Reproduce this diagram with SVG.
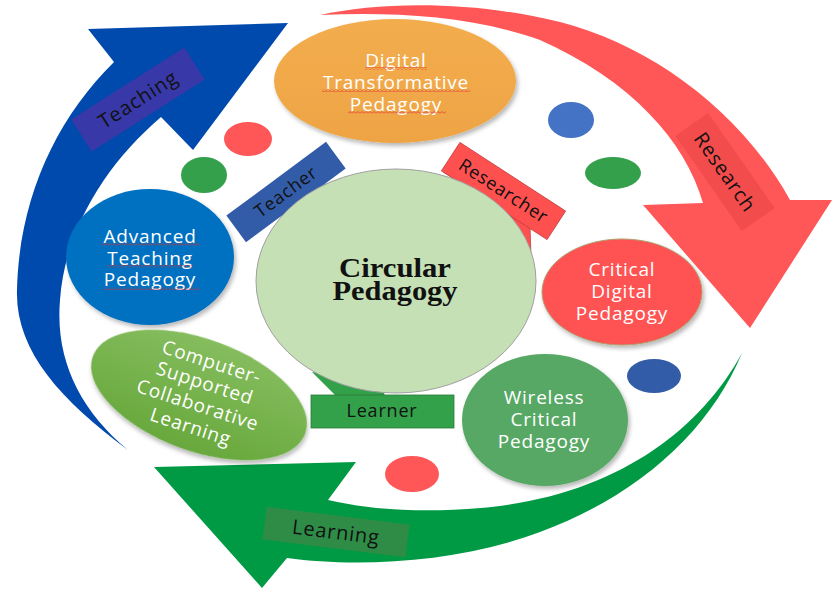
<svg xmlns="http://www.w3.org/2000/svg" width="832" height="589" viewBox="0 0 832 589">
<defs>
<style>
.nt{font-family:"Open Sans","Noto Sans","DejaVu Sans",sans-serif;font-size:19px;fill:#ffffff;text-anchor:middle;letter-spacing:0.8px}
.lt{font-family:"Open Sans","Noto Sans","DejaVu Sans",sans-serif;fill:#111111;text-anchor:middle;letter-spacing:0.8px}
.ct{font-family:"Liberation Serif","Times New Roman",serif;font-weight:bold;font-size:27px;fill:#111111;text-anchor:middle}
.sq{fill:url(#sq)}
</style>
<pattern id="sq" width="4" height="3" patternUnits="userSpaceOnUse"><path d="M0,2.5 L2,0.5 L4,2.5" stroke="#e03030" stroke-width="0.8" fill="none"/></pattern>
<filter id="sh" x="-10%" y="-10%" width="125%" height="130%"><feDropShadow dx="2" dy="3" stdDeviation="2" flood-color="#000" flood-opacity="0.28"/></filter>
<linearGradient id="gOr" x1="0" y1="0" x2="0" y2="1"><stop offset="0" stop-color="#f3ad4e"/><stop offset="1" stop-color="#eea444"/></linearGradient>
<linearGradient id="gCs" x1="0" y1="0" x2="0" y2="1"><stop offset="0" stop-color="#85bd5e"/><stop offset="1" stop-color="#68a83c"/></linearGradient>
</defs>
<rect width="832" height="589" fill="#ffffff"/>

<g id="connectors">
  <!-- Teaching arrow (blue) -->
  <path id="arrow-teaching" d="M128,450 C60,400 15,350 17,290 C19,200 55,120 114,62 L88,29 L288,23 L193,150 L161,117 C105,165 65,230 60,300 C55,360 80,410 128,450 Z" fill="#004aad"/>
  <!-- Research arrow (red) -->
  <path id="arrow-research" d="M320,15 C380,2 470,0 560,22 C650,45 740,110 790,200 L832,200 L750,328 L643,205 L703,203 C685,140 630,80 540,40 C470,15 390,12 320,15 Z" fill="#ff5757"/>
  <!-- Learning arrow (green) -->
  <path id="arrow-learning" d="M742,353 C700,430 620,490 500,506 C440,513 380,512 328,500 L356,462 L154,467 L262,588 L287,558 C360,568 460,562 540,532 C640,495 710,430 742,353 Z" fill="#009a44"/>
  <!-- arrow labels -->
  <g transform="translate(138,99.5) rotate(-32.5)">
    <rect x="-67" y="-19" width="134" height="38" fill="#3838a8"/>
    <text class="lt" x="0" y="7" font-size="20">Teaching</text>
  </g>
  <g transform="translate(725,172) rotate(55)">
    <rect x="-58" y="-20" width="116" height="40" fill="#f24c4c"/>
    <text class="lt" x="0" y="7" font-size="20">Research</text>
  </g>
  <g transform="translate(336,532) rotate(7)">
    <rect x="-72" y="-16.5" width="144" height="33" fill="#2e8c47"/>
    <text class="lt" x="0" y="7" font-size="20">Learning</text>
  </g>
</g>

<g id="dots">
  <ellipse cx="248" cy="139" rx="24" ry="17" fill="#ff5757"/>
  <ellipse cx="204" cy="175" rx="23" ry="18" fill="#34a04c"/>
  <ellipse cx="571" cy="120" rx="23" ry="18" fill="#4472c4"/>
  <ellipse cx="613" cy="173" rx="28" ry="16" fill="#34a04c"/>
  <ellipse cx="654" cy="376" rx="27" ry="17" fill="#335ca8"/>
  <ellipse cx="412" cy="474" rx="27" ry="18" fill="#ff5757"/>
</g>

<g id="node-digital-transformative">
  <ellipse cx="395" cy="81" rx="121" ry="62" fill="url(#gOr)" filter="url(#sh)"/>
  <text class="nt" x="396" y="67">Digital</text>
  <text class="nt" x="396" y="89">Transformative</text>
  <text class="nt" x="396" y="111">Pedagogy</text>
  <rect class="sq" x="365" y="67" width="62" height="3"/>
  <rect class="sq" x="322" y="89" width="148" height="3"/>
  <rect class="sq" x="348" y="111" width="98" height="3"/>
</g>

<g id="node-advanced-teaching">
  <ellipse cx="150" cy="257" rx="84" ry="68" fill="#0070c0" filter="url(#sh)"/>
  <text class="nt" x="150" y="243">Advanced</text>
  <text class="nt" x="150" y="265">Teaching</text>
  <text class="nt" x="150" y="286">Pedagogy</text>
  <rect class="sq" x="101" y="243" width="99" height="3"/>
  <rect class="sq" x="107" y="265" width="86" height="3"/>
  <rect class="sq" x="103" y="287" width="97" height="3"/>
</g>

<g id="node-critical-digital">
  <ellipse cx="622" cy="292" rx="80" ry="53" fill="#ff5252" stroke="#b0a070" stroke-width="1" filter="url(#sh)"/>
  <text class="nt" x="622" y="276">Critical</text>
  <text class="nt" x="622" y="298">Digital</text>
  <text class="nt" x="622" y="320">Pedagogy</text>
</g>

<g id="node-wireless-critical">
  <ellipse cx="545" cy="420" rx="83" ry="66" fill="#59a865" filter="url(#sh)"/>
  <text class="nt" x="544" y="404">Wireless</text>
  <text class="nt" x="544" y="426">Critical</text>
  <text class="nt" x="544" y="448">Pedagogy</text>
</g>

<g id="node-cscl">
  <ellipse cx="199" cy="395" rx="113" ry="56" transform="rotate(20 199 395)" fill="url(#gCs)" filter="url(#sh)"/>
  <g transform="translate(201,395) rotate(18)">
    <text class="nt" x="0" y="-28">Computer-</text>
    <text class="nt" x="0" y="-6">Supported</text>
    <text class="nt" x="0" y="17">Collaborative</text>
    <text class="nt" x="0" y="40">Learning</text>
  </g>
</g>

<g id="node-teacher">
  <polygon points="325,184 378,170 303,201" fill="#335ca8"/>
  <g transform="translate(286,192) rotate(-36.5)">
    <rect x="-62" y="-16.5" width="124" height="33" fill="#335ca8"/>
    <text class="lt" x="0" y="6" font-size="18">Teacher</text>
  </g>
</g>

<g id="node-researcher">
  <polygon points="498,206 530,226 531,257" fill="#ff5050" stroke="#c04040" stroke-width="0.8"/>
  <g transform="translate(503.5,191) rotate(33)">
    <rect x="-63" y="-17" width="126" height="34" fill="#ff5050" stroke="#c04040" stroke-width="0.8"/>
    <text class="lt" x="0" y="6" font-size="18">Researcher</text>
  </g>
</g>

<g id="node-learner">
  <polygon points="312,372 336,396 385,396 380,380" fill="#33a04a"/>
  <rect x="311" y="395" width="143" height="33" fill="#33a04a" stroke="#2a7a3a" stroke-width="0.8"/>
  <text class="lt" x="382" y="417" font-size="18">Learner</text>
</g>

<g id="node-circular">
  <ellipse cx="396" cy="281" rx="140" ry="112" fill="#c5e0b4" stroke="#a0a0a0" stroke-width="1"/>
  <text class="ct" x="395" y="277" textLength="112" lengthAdjust="spacingAndGlyphs">Circular</text>
  <text class="ct" x="395" y="300" textLength="125" lengthAdjust="spacingAndGlyphs">Pedagogy</text>
</g>
</svg>
